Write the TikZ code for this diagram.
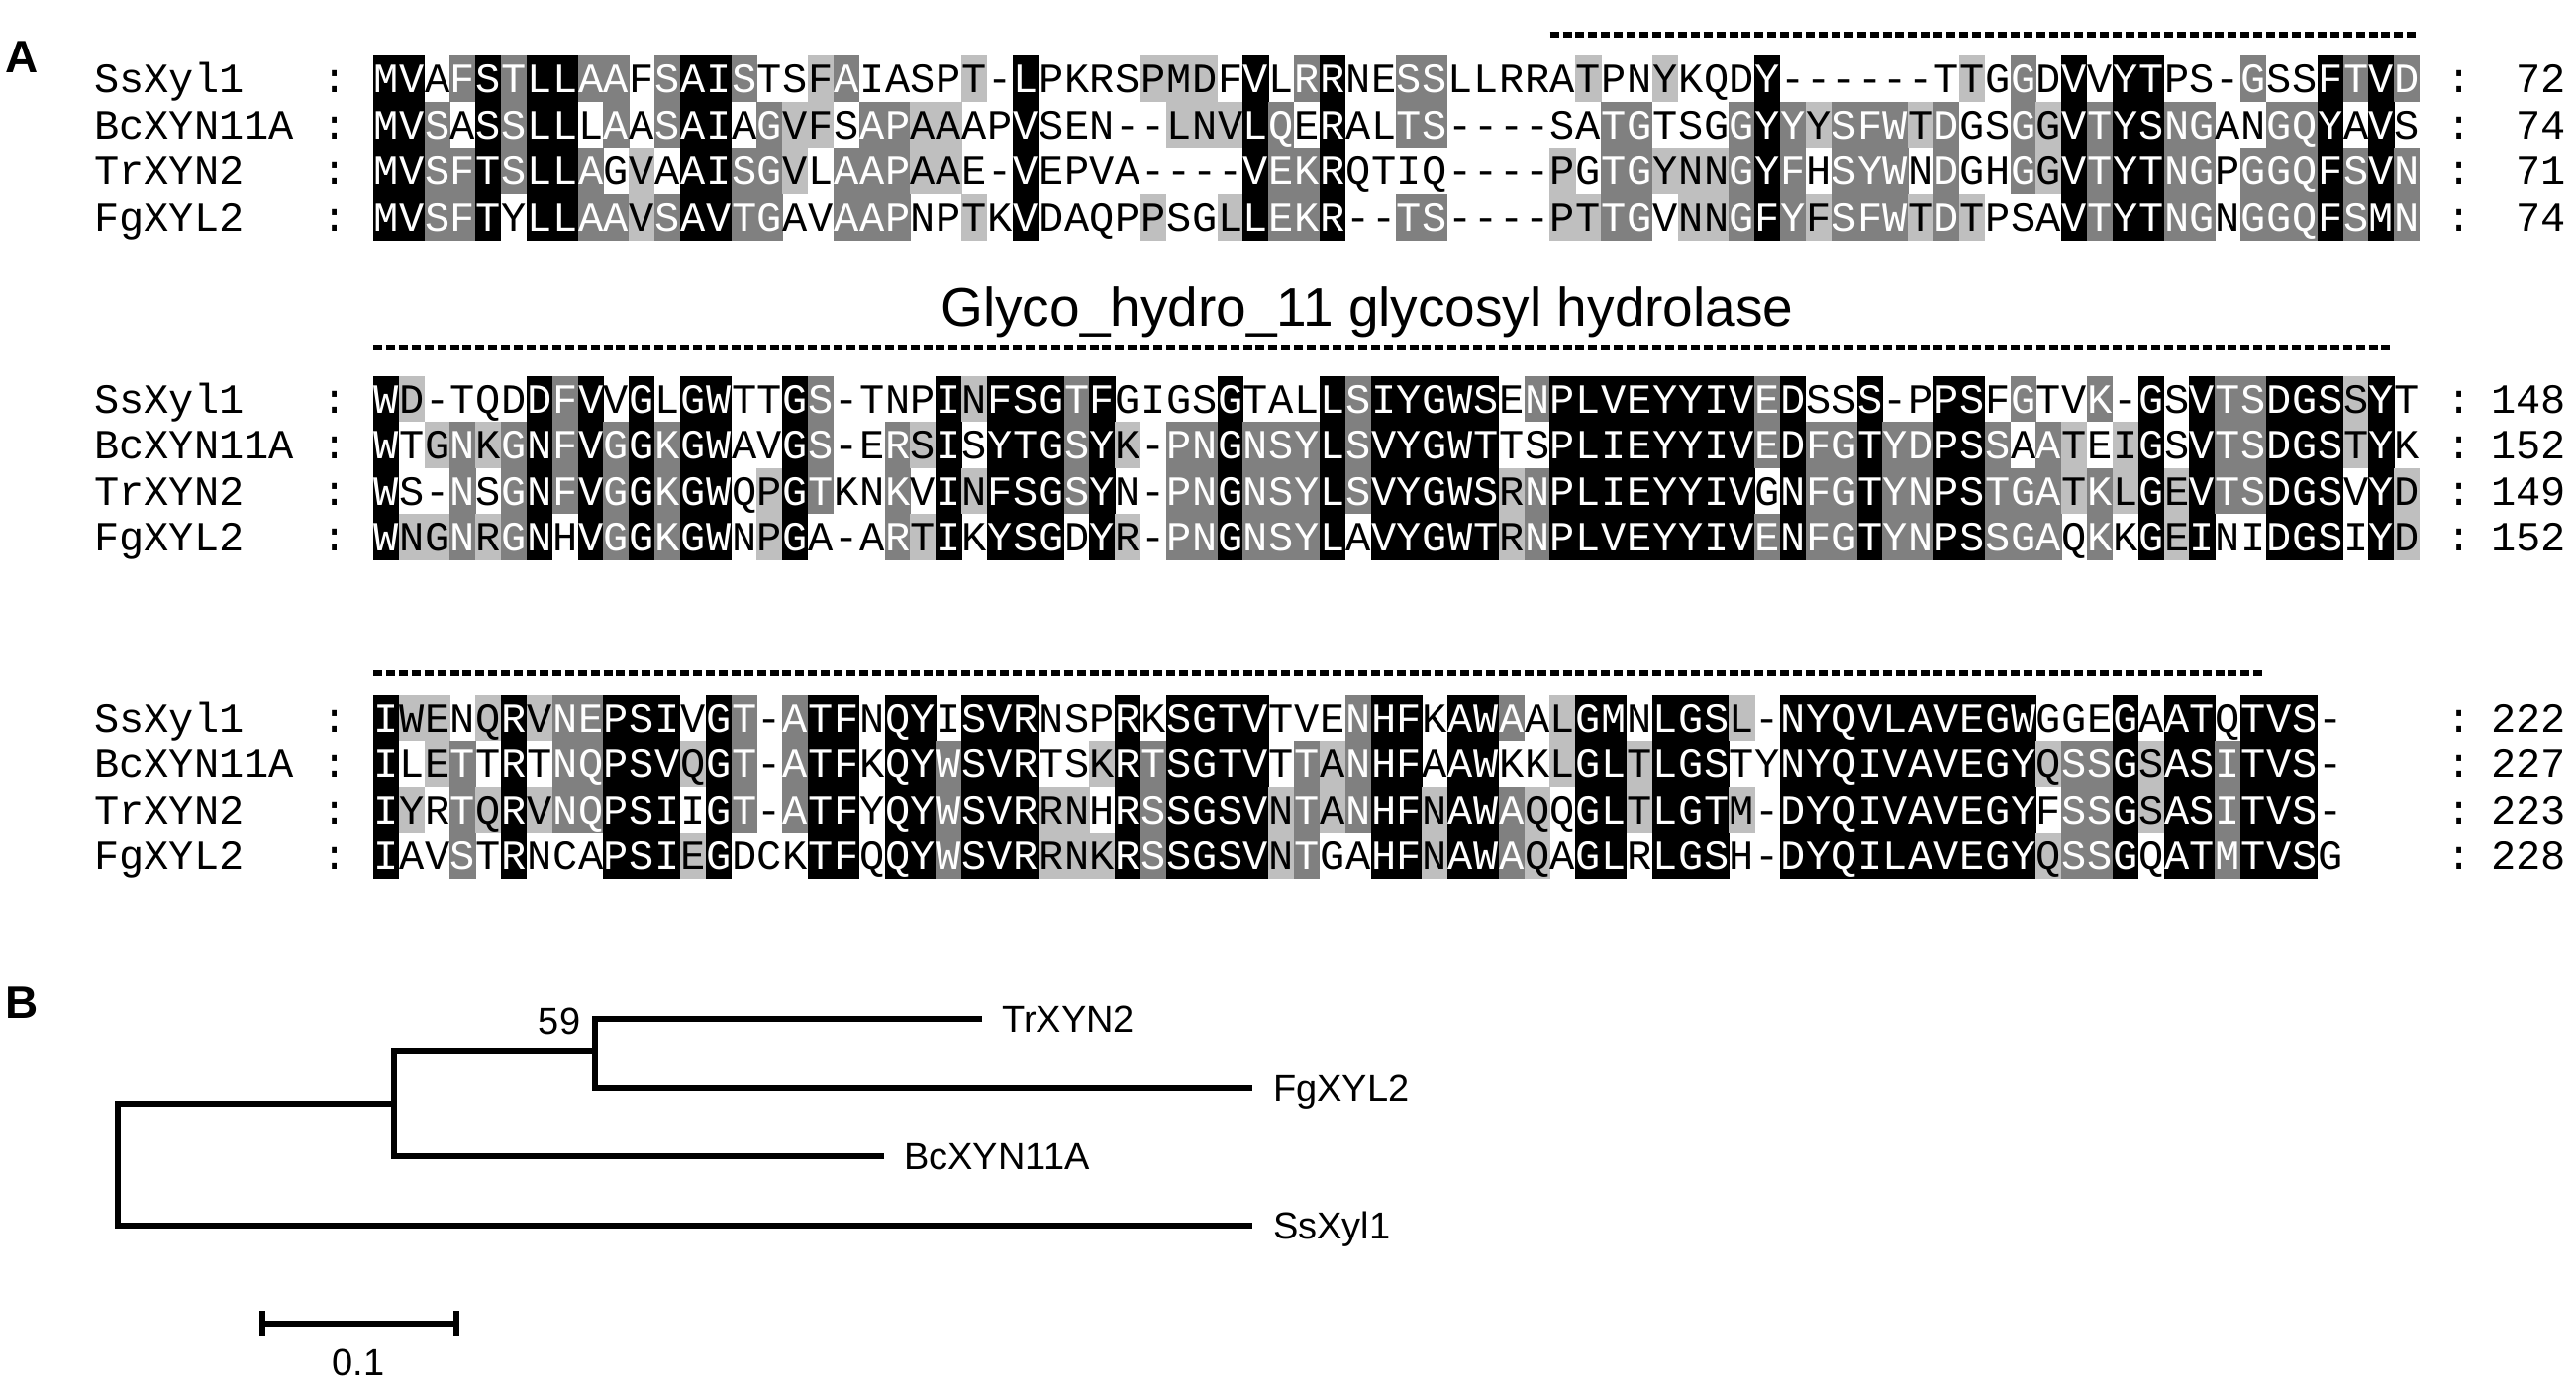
\documentclass[tikz,border=0pt]{standalone}
\usepackage{fontspec}
\setmainfont{Liberation Sans}
\setsansfont{Liberation Sans}
\setmonofont{Liberation Mono}
\usepackage{tikz}
\usetikzlibrary{positioning}

\definecolor{shadelite}{gray}{0.75}
\definecolor{shadedark}{gray}{0.5}

\newcommand\seqfont{\ttfamily\fontsize{42}{42}\selectfont}
\newcommand\seqx{377}
\newcommand\colw{25.84}
\newcommand\rowsep{46.5}

% one residue cell: column, y of first row, row, level, letter, name
\newcommand\alncell[6]{%
  \node[res, shade#4] (#6) at ({\seqx+(#1-0.5)*\colw}, {#2+(#3-1)*\rowsep}) {#5};%
}

\ExplSyntaxOn
\tl_new:N \l_aln_b_tl
\tl_new:N \l_aln_y_tl
\tl_new:N \l_aln_c_tl
\tl_new:N \l_aln_ra_tl
\tl_new:N \l_aln_rb_tl
\tl_new:N \l_aln_rc_tl
\tl_new:N \l_aln_rd_tl
\tl_new:N \l_aln_j_tl
\int_new:N \l_aln_ga_int
\int_new:N \l_aln_gb_int
\int_new:N \l_aln_gc_int
\int_new:N \l_aln_gd_int
\int_new:N \l_aln_cnt_int
\int_new:N \l_aln_m_int
\int_new:N \l_aln_win_int

% similarity groups DN EQ ST KR FYW LIVM, the rest alone
\cs_new:Npn \aln_grp:n #1
  {
    \str_case:nnF {#1}
      {
        {D}{1} {N}{1}
        {E}{2} {Q}{2}
        {S}{3} {T}{3}
        {K}{4} {R}{4}
        {F}{5} {Y}{5} {W}{5}
        {L}{6} {I}{6} {V}{6} {M}{6}
        {A}{7} {G}{8} {P}{9} {H}{10} {C}{11}
      }
      {0}
  }
\cs_generate_variant:Nn \aln_grp:n { V }

\cs_new_protected:Npn \aln_setgrp:NN #1#2
  {
    \tl_set:Nx \l_aln_c_tl { \tl_item:Nn #2 { \l_aln_j_tl } }
    \int_set:Nn #1 { \aln_grp:V \l_aln_c_tl }
  }

\cs_new_protected:Npn \aln_count:n #1
  {
    \int_zero:N \l_aln_cnt_int
    \int_compare:nNnT {#1} > {0}
      {
        \int_compare:nNnT {#1} = {\l_aln_ga_int} { \int_incr:N \l_aln_cnt_int }
        \int_compare:nNnT {#1} = {\l_aln_gb_int} { \int_incr:N \l_aln_cnt_int }
        \int_compare:nNnT {#1} = {\l_aln_gc_int} { \int_incr:N \l_aln_cnt_int }
        \int_compare:nNnT {#1} = {\l_aln_gd_int} { \int_incr:N \l_aln_cnt_int }
      }
    \int_compare:nNnTF {\l_aln_cnt_int} > {\l_aln_m_int}
      {
        \int_set_eq:NN \l_aln_m_int \l_aln_cnt_int
        \int_set:Nn \l_aln_win_int {#1}
      }
      {
        \int_compare:nNnT {\l_aln_cnt_int} = {\l_aln_m_int}
          {
            \int_compare:nNnT {#1} < {\l_aln_win_int}
              { \int_set:Nn \l_aln_win_int {#1} }
          }
      }
  }

\cs_new:Npn \aln_lvl:N #1
  {
    \bool_lazy_and:nnTF
      { \int_compare_p:nNn { \l_aln_m_int } > { 1 } }
      { \int_compare_p:nNn { #1 } = { \l_aln_win_int } }
      { \int_eval:n { \l_aln_m_int - 1 } }
      { 0 }
  }

\cs_new_protected:Npn \aln_cell:nNN #1#2#3
  {
    \use:e
      {
        \exp_not:N \alncell
          { \l_aln_j_tl } { \l_aln_y_tl } { #1 }
          { \aln_lvl:N #2 }
          { \tl_item:Nn #3 { \l_aln_j_tl } }
          { b \l_aln_b_tl r #1 c \l_aln_j_tl }
      }
  }

\cs_new_protected:Npn \alnblock #1#2#3#4#5#6
  {
    \tl_set:Nn \l_aln_b_tl {#1}
    \tl_set:Nn \l_aln_y_tl {#2}
    \tl_set:Nn \l_aln_ra_tl {#3}
    \tl_set:Nn \l_aln_rb_tl {#4}
    \tl_set:Nn \l_aln_rc_tl {#5}
    \tl_set:Nn \l_aln_rd_tl {#6}
    \int_step_variable:nNn { \tl_count:N \l_aln_ra_tl } \l_aln_j_tl
      {
        \aln_setgrp:NN \l_aln_ga_int \l_aln_ra_tl
        \aln_setgrp:NN \l_aln_gb_int \l_aln_rb_tl
        \aln_setgrp:NN \l_aln_gc_int \l_aln_rc_tl
        \aln_setgrp:NN \l_aln_gd_int \l_aln_rd_tl
        \int_zero:N \l_aln_m_int
        \int_set:Nn \l_aln_win_int { 99 }
        \aln_count:n { \l_aln_ga_int }
        \aln_count:n { \l_aln_gb_int }
        \aln_count:n { \l_aln_gc_int }
        \aln_count:n { \l_aln_gd_int }
        \aln_cell:nNN { 1 } \l_aln_ga_int \l_aln_ra_tl
        \aln_cell:nNN { 2 } \l_aln_gb_int \l_aln_rb_tl
        \aln_cell:nNN { 3 } \l_aln_gc_int \l_aln_rc_tl
        \aln_cell:nNN { 4 } \l_aln_gd_int \l_aln_rd_tl
      }
  }
\ExplSyntaxOff

\begin{document}
\begin{tikzpicture}[
  x=1pt, y=-1pt,
  res/.style={font=\seqfont, inner sep=0pt, minimum width=26.2pt,
    minimum height=46.8pt, text height=28pt, text depth=0pt},
  shade0/.style={},
  shade1/.style={fill=shadelite},
  shade2/.style={fill=shadedark, text=white},
  shade3/.style={fill=black, text=white},
  seqname/.style={font=\seqfont, inner sep=0pt, anchor=west,
    text height=28pt, text depth=0pt},
  seqcolon/.style={seqname, anchor=center},
  seqnum/.style={seqname, anchor=east},
  domline/.style={line width=6pt, dash pattern=on 9pt off 3.92pt},
  domtitle/.style={font=\fontsize{55}{55}\selectfont, inner sep=0pt},
  panel/.style={font=\bfseries\fontsize{46}{46}\selectfont, inner sep=0pt},
  branch/.style={line width=6pt},
  leaf/.style={font=\fontsize{38}{38}\selectfont, inner sep=0pt,
    text height=27pt, text depth=0pt, anchor=west}
]
\useasboundingbox (0,0) rectangle (2602,1398);

% panel A: alignment
\node[panel] (pa) at (22,58) {A};

\foreach \b/\yb/\na/\nb/\nc/\nd in {1/79.6/72/74/71/74,
    2/403/148/152/149/152, 3/725/222/227/223/228} {
  \foreach \nm/\num [count=\r] in {SsXyl1/\na,BcXYN11A/\nb,TrXYN2/\nc,FgXYL2/\nd} {
    \node[seqname] (nm\b-\r) at (95, {\yb+(\r-1)*\rowsep}) {\nm};
    \node[seqcolon] (cl\b-\r) at (338, {\yb+(\r-1)*\rowsep}) {:};
    \node[seqcolon] (cr\b-\r) at (2484, {\yb+(\r-1)*\rowsep}) {:};
    \node[seqnum] (no\b-\r) at (2592, {\yb+(\r-1)*\rowsep}) {\num};
  }
}

\alnblock{1}{79.6}
  {MVAFSTLLAAFSAISTSFAIASPT-LPKRSPMDFVLRRNESSLLRRATPNYKQDY------TTGGDVVYTPS-GSSFTVD}
  {MVSASSLLLAASAIAGVFSAPAAAPVSEN--LNVLQERALTS----SATGTSGGYYYSFWTDGSGGVTYSNGANGQYAVS}
  {MVSFTSLLAGVAAISGVLAAPAAE-VEPVA----VEKRQTIQ----PGTGYNNGYFHSYWNDGHGGVTYTNGPGGQFSVN}
  {MVSFTYLLAAVSAVTGAVAAPNPTKVDAQPPSGLLEKR--TS----PTTGVNNGFYFSFWTDTPSAVTYTNGNGGQFSMN}
\alnblock{2}{403}
  {WD-TQDDFVVGLGWTTGS-TNPINFSGTFGIGSGTALLSIYGWSENPLVEYYIVEDSSS-PPSFGTVK-GSVTSDGSSYT}
  {WTGNKGNFVGGKGWAVGS-ERSISYTGSYK-PNGNSYLSVYGWTTSPLIEYYIVEDFGTYDPSSAATEIGSVTSDGSTYK}
  {WS-NSGNFVGGKGWQPGTKNKVINFSGSYN-PNGNSYLSVYGWSRNPLIEYYIVGNFGTYNPSTGATKLGEVTSDGSVYD}
  {WNGNRGNHVGGKGWNPGA-ARTIKYSGDYR-PNGNSYLAVYGWTRNPLVEYYIVENFGTYNPSSGAQKKGEINIDGSIYD}
\alnblock{3}{725}
  {IWENQRVNEPSIVGT-ATFNQYISVRNSPRKSGTVTVENHFKAWAALGMNLGSL-NYQVLAVEGWGGEGAATQTVS-}
  {ILETTRTNQPSVQGT-ATFKQYWSVRTSKRTSGTVTTANHFAAWKKLGLTLGSTYNYQIVAVEGYQSSGSASITVS-}
  {IYRTQRVNQPSIIGT-ATFYQYWSVRRNHRSSGSVNTANHFNAWAQQGLTLGTM-DYQIVAVEGYFSSGSASITVS-}
  {IAVSTRNCAPSIEGDCKTFQQYWSVRRNKRSSGSVNTGAHFNAWAQAGLRLGSH-DYQILAVEGYQSSGQATMTVSG}

% domain bars
\coordinate (d1s) at (1565.6,35);
\coordinate (d1e) at (2444,35);
\coordinate (d2s) at (377,351);
\coordinate (d2e) at (2418,351);
\coordinate (d3s) at (377,680);
\coordinate (d3e) at (2289,680);
\draw[domline] (d1s) -- (d1e);
\draw[domline] (d2s) -- (d2e);
\draw[domline] (d3s) -- (d3e);
\node[domtitle] (dom) at (1381,315) {Glyco\_hydro\_11 glycosyl hydrolase};

% panel B: tree
\node[panel] (pb) at (22,1013) {B};

\coordinate (root) at (119,1176.5);
\coordinate (n2) at (398,1115);
\coordinate (n3) at (601,1062);
\coordinate (ttr) at (992,1029);
\coordinate (tfg) at (1265,1099);
\coordinate (tbc) at (893,1168);
\coordinate (tss) at (1265,1238);

\draw[branch] (ttr) -| (n3) |- (tfg);
\draw[branch] (n3) -| (n2) |- (tbc);
\draw[branch] (n2) -| (root) |- (tss);

\node[leaf, right=20pt of ttr] (ltr) {TrXYN2};
\node[leaf, right=21pt of tfg] (lfg) {FgXYL2};
\node[leaf, right=20pt of tbc] (lbc) {BcXYN11A};
\node[leaf, right=21pt of tss] (lss) {SsXyl1};
\node[leaf, anchor=center] (boot) at (565,1031) {59};

% scale bar
\coordinate (sbl) at (265,1337);
\coordinate (sbr) at (461,1337);
\draw[branch] (sbl) -- (sbr);
\draw[branch] ([yshift=13pt]sbl) -- ([yshift=-13pt]sbl);
\draw[branch] ([yshift=13pt]sbr) -- ([yshift=-13pt]sbr);
\node[leaf, anchor=center] (sblab) at (362,1376) {0.1};
\end{tikzpicture}
\end{document}
